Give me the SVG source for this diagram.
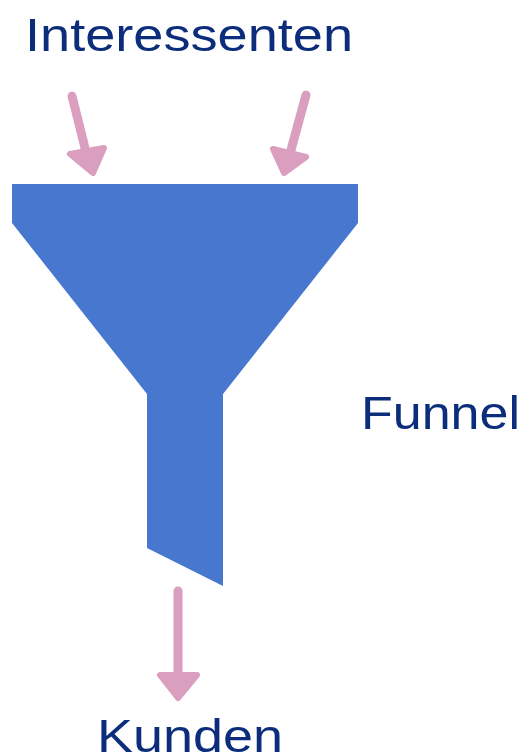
<svg xmlns="http://www.w3.org/2000/svg" width="527" height="754" viewBox="0 0 527 754">
<style>
.lbl{font-family:"Liberation Sans",Arial,sans-serif;fill:#0B2D7C;font-size:47px}
.arr{stroke:#DA9FBF;stroke-width:9;stroke-linecap:round;fill:none}
.head{fill:#DA9FBF;stroke:#DA9FBF;stroke-width:6;stroke-linejoin:round}
</style>
<rect width="527" height="754" fill="#ffffff"/>
<g id="funnel">
<path d="M12,184 H358 V223 L223,394 V586 L147,548 V394 L12,223 Z" fill="#4877CF"/>
</g>
<g id="labels">
<text class="lbl" x="25" y="51" textLength="328" lengthAdjust="spacingAndGlyphs">Interessenten</text>
<text class="lbl" x="361" y="429" textLength="159" lengthAdjust="spacingAndGlyphs">Funnel</text>
<text class="lbl" x="97" y="752" textLength="186" lengthAdjust="spacingAndGlyphs">Kunden</text>
</g>
<g id="connectors">
<line class="arr" x1="72" y1="96" x2="86" y2="152"/>
<polygon class="head" points="70,154 104,148 93,173"/>
<line class="arr" x1="306" y1="95" x2="291" y2="150"/>
<polygon class="head" points="273,149 306,157 284,173"/>
<line class="arr" x1="178" y1="591" x2="178" y2="676"/>
<polygon class="head" points="160,675 197,675 178,698"/>
</g>
</svg>
